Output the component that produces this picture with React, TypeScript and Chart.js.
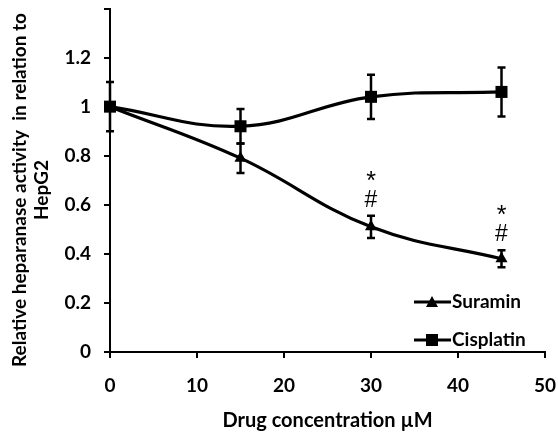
import React, { useEffect, useRef } from 'react';
import { Chart, registerables } from 'chart.js';

Chart.register(...registerables);

const concentrations = [0, 15, 30, 45];
const suraminValues = [1.0, 0.79, 0.51, 0.38];
const suraminErrors = [0, 0.06, 0.045, 0.035];
const cisplatinValues = [1.0, 0.92, 1.04, 1.06];
const cisplatinErrors = [0.1, 0.07, 0.09, 0.1];
const yTickLabels = ['0', '0.2', '0.4', '0.6', '0.8', '1', '1.2', ''];
const significantConcentrations = [30, 45];
const significanceMarks = ['*', '#'];
const seriesNames = ['Suramin', 'Cisplatin'];
const yTitleLines = ['Relative heparanase activity  in relation to', 'HepG2'];
const xTitle = 'Drug concentration µM';

const FONT = 'Lato, "Open Sans", sans-serif';
const MARK_FONT = '"Liberation Sans", Arial, sans-serif';

const errorBarPlugin = {
  id: 'errorBars',
  afterDatasetsDraw(chart: any) {
    const ctx = chart.ctx;
    const xs = chart.scales.x;
    const ys = chart.scales.y;
    chart.data.datasets.forEach((ds: any) => {
      const errs = ds.errors;
      if (!errs) return;
      ds.data.forEach((p: any, i: number) => {
        const e = errs[i];
        if (!e) return;
        const px = xs.getPixelForValue(p.x);
        const top = ys.getPixelForValue(p.y + e);
        const bot = ys.getPixelForValue(p.y - e);
        ctx.save();
        ctx.strokeStyle = '#000';
        ctx.lineWidth = 2.5;
        ctx.beginPath();
        ctx.moveTo(px, top);
        ctx.lineTo(px, bot);
        ctx.moveTo(px - 4, top);
        ctx.lineTo(px + 4, top);
        ctx.moveTo(px - 4, bot);
        ctx.lineTo(px + 4, bot);
        ctx.stroke();
        ctx.restore();
      });
    });
  },
};

const annotationPlugin = {
  id: 'annotations',
  afterDatasetsDraw(chart: any) {
    const ctx = chart.ctx;
    const xs = chart.scales.x;
    const ys = chart.scales.y;
    significantConcentrations.forEach((c) => {
      const i = concentrations.indexOf(c);
      const px = xs.getPixelForValue(c);
      const top = ys.getPixelForValue(suraminValues[i] + suraminErrors[i]);
      ctx.save();
      ctx.fillStyle = '#000';
      ctx.textAlign = 'center';
      ctx.textBaseline = 'alphabetic';
      ctx.font = `25px ${MARK_FONT}`;
      ctx.fillText(significanceMarks[0], px, top - 27);
      ctx.font = `23px ${MARK_FONT}`;
      ctx.fillText(significanceMarks[1], px, top - 9);
      ctx.restore();
    });
  },
};

const yTitlePlugin = {
  id: 'yTitle',
  afterDraw(chart: any) {
    const ctx = chart.ctx;
    ctx.save();
    ctx.fillStyle = '#000';
    ctx.font = `bold 19px ${FONT}`;
    ctx.textAlign = 'center';
    ctx.textBaseline = 'middle';
    const xs = [20, 42];
    yTitleLines.forEach((line, k) => {
      ctx.save();
      ctx.translate(xs[k], 190);
      ctx.rotate(-Math.PI / 2);
      ctx.fillText(line, 0, 0);
      ctx.restore();
    });
    ctx.restore();
  },
};

function drawMarker(ctx: CanvasRenderingContext2D, style: string, x: number, y: number) {
  ctx.beginPath();
  if (style === 'rect') {
    ctx.rect(x - 6, y - 6, 12, 12);
  } else {
    ctx.moveTo(x, y - 6);
    ctx.lineTo(x + 6, y + 5);
    ctx.lineTo(x - 6, y + 5);
    ctx.closePath();
  }
  ctx.fill();
}

const legendPlugin = {
  id: 'customLegend',
  afterDraw(chart: any) {
    const ctx = chart.ctx;
    const rows = [302, 340];
    ctx.save();
    chart.data.datasets.forEach((ds: any, k: number) => {
      const y = rows[k];
      ctx.strokeStyle = '#000';
      ctx.fillStyle = '#000';
      ctx.lineWidth = 3;
      ctx.beginPath();
      ctx.moveTo(414, y);
      ctx.lineTo(451, y);
      ctx.stroke();
      drawMarker(ctx, ds.pointStyle, 432, y);
      ctx.font = `bold 19px ${FONT}`;
      ctx.textAlign = 'left';
      ctx.textBaseline = 'middle';
      ctx.fillText(ds.label, 452, y);
    });
    ctx.restore();
  },
};

export default function App() {
  const ref = useRef<HTMLCanvasElement>(null);
  useEffect(() => {
    if (!ref.current) return;
    const chart = new Chart(ref.current, {
      type: 'line',
      data: {
        datasets: [
          {
            label: seriesNames[0],
            data: concentrations.map((x, i) => ({ x, y: suraminValues[i] })),
            errors: suraminErrors,
            borderColor: '#000',
            backgroundColor: '#000',
            borderWidth: 3.2,
            pointStyle: 'triangle',
            pointRadius: 7,
            pointBorderWidth: 0,
            tension: 0.4,
            clip: false,
          } as any,
          {
            label: seriesNames[1],
            data: concentrations.map((x, i) => ({ x, y: cisplatinValues[i] })),
            errors: cisplatinErrors,
            borderColor: '#000',
            backgroundColor: '#000',
            borderWidth: 3.2,
            pointStyle: 'rect',
            pointRadius: 8.5,
            pointBorderWidth: 0,
            tension: 0.4,
            clip: false,
          } as any,
        ],
      },
      options: {
        animation: false,
        responsive: false,
        devicePixelRatio: 1,
        layout: { padding: { top: 6, right: 13, left: 0, bottom: 0 } },
        plugins: { legend: { display: false }, tooltip: { enabled: false } },
        scales: {
          x: {
            type: 'linear',
            min: 0,
            max: 50,
            border: { display: true, color: '#000', width: 2 },
            grid: { drawOnChartArea: false, color: '#000', lineWidth: 2, tickLength: 6 },
            ticks: {
              stepSize: 10,
              padding: 16,
              color: '#000',
              font: { family: FONT, size: 19, weight: 'bold' },
              maxRotation: 0,
            },
            title: {
              display: true,
              text: xTitle,
              color: '#000',
              font: { family: FONT, size: 20, weight: 'bold' },
              padding: { top: 0, bottom: 3 },
            },
            afterFit(scale: any) {
              scale.height = 84;
              scale.paddingLeft = 0;
              scale.paddingRight = 0;
            },
          },
          y: {
            type: 'linear',
            min: 0,
            max: 1.4,
            border: { display: true, color: '#000', width: 2 },
            grid: { drawOnChartArea: false, color: '#000', lineWidth: 2, tickLength: 6 },
            ticks: {
              stepSize: 0.2,
              padding: 13,
              color: '#000',
              font: { family: FONT, size: 19, weight: 'bold' },
              callback: (_v: any, i: number) => yTickLabels[i],
            },
            afterFit(scale: any) {
              scale.width = 110;
              scale.paddingTop = 0;
              scale.paddingBottom = 0;
            },
          },
        },
      } as any,
      plugins: [errorBarPlugin, annotationPlugin, yTitlePlugin, legendPlugin],
    });
    return () => chart.destroy();
  }, []);
  return (
    <div style={{ position: 'fixed', left: 0, top: 0, width: 558, height: 436, background: '#fff' }}>
      <canvas ref={ref} width={558} height={436} style={{ width: 558, height: 436 }} />
    </div>
  );
}
